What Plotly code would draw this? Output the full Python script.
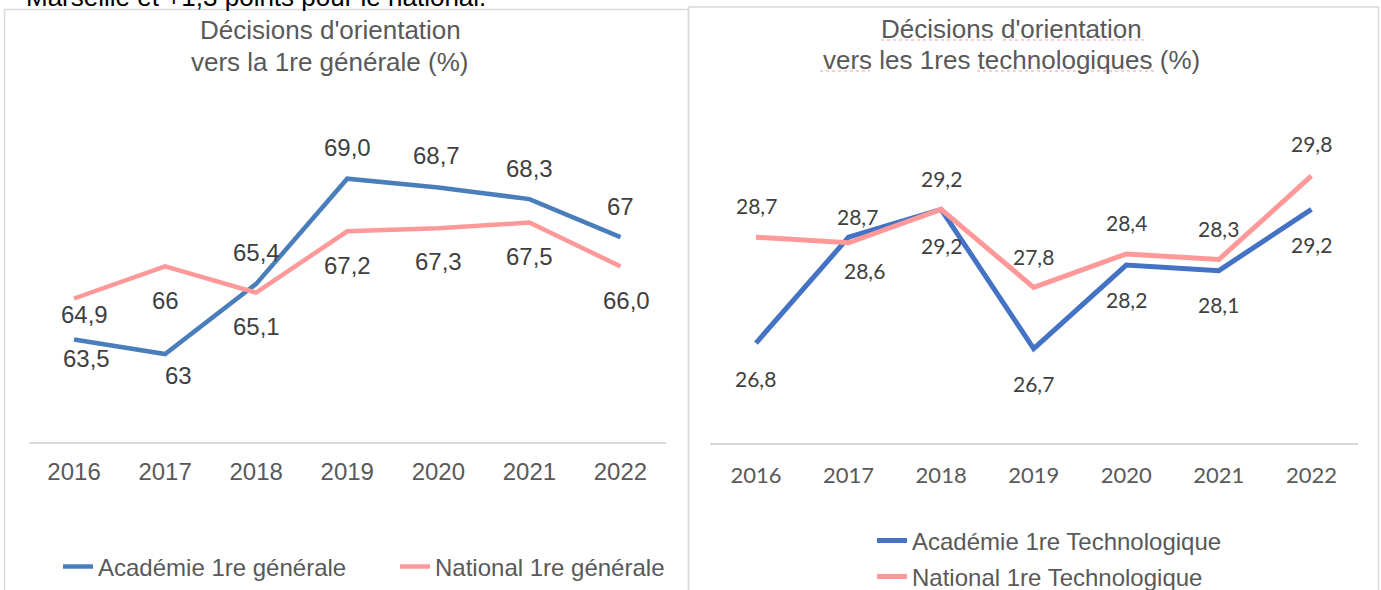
import plotly.graph_objects as go

# ---------------- data ----------------
years = [2016, 2017, 2018, 2019, 2020, 2021, 2022]
year_labels = ["2016", "2017", "2018", "2019", "2020", "2021", "2022"]

acad_gen = [63.5, 63.0, 65.4, 69.0, 68.7, 68.3, 67.0]
nat_gen = [64.9, 66.0, 65.1, 67.2, 67.3, 67.5, 66.0]
acad_gen_labels = ["63,5", "63", "65,4", "69,0", "68,7", "68,3", "67"]
nat_gen_labels = ["64,9", "66", "65,1", "67,2", "67,3", "67,5", "66,0"]

acad_tech = [26.8, 28.7, 29.2, 26.7, 28.2, 28.1, 29.2]
nat_tech = [28.7, 28.6, 29.2, 27.8, 28.4, 28.3, 29.8]
acad_tech_labels = ["26,8", "28,7", "29,2", "26,7", "28,2", "28,1", "29,2"]
nat_tech_labels = ["28,7", "28,6", "29,2", "27,8", "28,4", "28,3", "29,8"]

# label offsets (pixels; positive dy = downward)
acad_gen_dy = [19, 21, -31, -31, -32, -31, -31]
acad_gen_dx = [12, 13, 0, 0, -2, 0, 0]
nat_gen_dy = [16, 34, 34, 34, 33, 34, 34]
nat_gen_dx = [10, 0, 0, 0, 0, 0, 6]
acad_tech_dy = [35, -21, 36, 35, 34, 34, 35]
acad_tech_dx = [0, 9, 0, 0, 0, 0, 0]
nat_tech_dy = [-32, 28, -31, -31, -31, -31, -32]
nat_tech_dx = [1, 16, 0, 0, 0, 0, 0]

W, H = 1381, 590


def px(x):
    return x / W


def py(y):
    return 1 - y / H


BLUE_L = "#4A7EBB"
BLUE_R = "#4472C4"
PINK = "#FF9999"
GREY_TXT = "#595959"
LABEL_TXT = "#404040"
ARIAL = "Liberation Sans, Arial, sans-serif"
CALIB = "Lato, Carlito, sans-serif"

fig = go.Figure()
fig.add_trace(go.Scatter(x=years, y=acad_gen, mode="lines", name="Académie 1re générale",
                         line=dict(color=BLUE_L, width=4.5), xaxis="x", yaxis="y",
                         legend="legend", hoverinfo="skip"))
fig.add_trace(go.Scatter(x=years, y=nat_gen, mode="lines", name="National 1re générale",
                         line=dict(color=PINK, width=4.5), xaxis="x", yaxis="y",
                         legend="legend2", hoverinfo="skip"))
fig.add_trace(go.Scatter(x=years, y=acad_tech, mode="lines", name="Académie 1re Technologique",
                         line=dict(color=BLUE_R, width=5), xaxis="x2", yaxis="y2",
                         legend="legend3", hoverinfo="skip"))
fig.add_trace(go.Scatter(x=years, y=nat_tech, mode="lines", name="National 1re Technologique",
                         line=dict(color=PINK, width=5), xaxis="x2", yaxis="y2",
                         legend="legend4", hoverinfo="skip"))

annotations = []


def add_labels(vals, labels, dxs, dys, xr, yr, font):
    for yr_, v, t, dx, dy in zip(years, vals, labels, dxs, dys):
        annotations.append(dict(x=yr_, y=v, xref=xr, yref=yr, text=t, showarrow=False,
                                xshift=dx, yshift=-dy, font=font,
                                xanchor="center", yanchor="middle"))


lab_font_l = dict(family=ARIAL, size=24, color=LABEL_TXT)
lab_font_r = dict(family=CALIB, size=21, color=LABEL_TXT)
add_labels(acad_gen, acad_gen_labels, acad_gen_dx, acad_gen_dy, "x", "y", lab_font_l)
add_labels(nat_gen, nat_gen_labels, nat_gen_dx, nat_gen_dy, "x", "y", lab_font_l)
add_labels(acad_tech, acad_tech_labels, acad_tech_dx, acad_tech_dy, "x2", "y2", lab_font_r)
add_labels(nat_tech, nat_tech_labels, nat_tech_dx, nat_tech_dy, "x2", "y2", lab_font_r)

title_font = dict(family=ARIAL, size=26, color=GREY_TXT)
for text, x, y in [("Décisions d'orientation", 330, 30),
                   ("vers la 1re générale (%)", 329, 62),
                   ("Décisions d'orientation", 1012, 29),
                   ("vers les 1res technologiques (%)", 1011, 60)]:
    annotations.append(dict(x=px(x), y=py(y), xref="paper", yref="paper", text=text,
                            showarrow=False, xanchor="center", yanchor="middle",
                            font=title_font))

annotations.append(dict(x=px(24), y=py(-3), xref="paper", yref="paper",
                        text="Marseille et +1,3 points pour le national.",
                        showarrow=False, xanchor="left", yanchor="middle",
                        font=dict(family=ARIAL, size=26, color="#000000")))

border = dict(color="#D9D9D9", width=1.5)
shapes = [
    dict(type="rect", xref="paper", yref="paper", x0=px(4.5), x1=px(688.5),
         y0=py(9.5), y1=py(620), line=border, fillcolor="rgba(0,0,0,0)", layer="below"),
    dict(type="rect", xref="paper", yref="paper", x0=px(688.5), x1=px(1378.5),
         y0=py(7), y1=py(620), line=border, fillcolor="rgba(0,0,0,0)", layer="below"),
]
# spell-check style underlines below words of the right-hand title
squiggle = dict(color="#F2A0A0", width=1.2, dash="dot")
for x0, x1, y in [(881, 994, 40), (1003, 1144, 40), (820, 870, 71), (977, 1154, 71)]:
    shapes.append(dict(type="line", xref="paper", yref="paper", x0=px(x0), x1=px(x1),
                       y0=py(y), y1=py(y), line=squiggle))

axis_common = dict(type="linear", range=[2015.5, 2022.5], tickmode="array",
                   tickvals=years, ticktext=year_labels,
                   showline=True, linecolor="#D9D9D9", linewidth=2,
                   ticks="", showgrid=False, zeroline=False, fixedrange=True,
                   automargin=False)

leg_common = dict(font=dict(family=ARIAL, size=24, color=GREY_TXT),
                  bgcolor="rgba(0,0,0,0)", xanchor="left", yanchor="middle",
                  orientation="h", borderwidth=0)

fig.update_layout(
    width=W, height=H,
    margin=dict(l=0, r=0, t=0, b=0, autoexpand=False),
    paper_bgcolor="white", plot_bgcolor="white",
    xaxis=dict(domain=[px(28.5), px(666)], anchor="y",
               tickfont=dict(family=ARIAL, size=24, color=GREY_TXT),
               ticklabelstandoff=7, **axis_common),
    yaxis=dict(domain=[py(441.7), py(91)], range=[60, 72], visible=False,
               anchor="x", fixedrange=True),
    xaxis2=dict(domain=[px(709.7), px(1357.7)], anchor="y2",
                tickfont=dict(family=CALIB, size=22, color=GREY_TXT),
                ticklabelstandoff=11, **axis_common),
    yaxis2=dict(domain=[py(443.3), py(109.1)], range=[25, 31], visible=False,
                anchor="x2", fixedrange=True),
    showlegend=True,
    legend=dict(x=px(58), y=py(567), **leg_common),
    legend2=dict(x=px(395), y=py(567), **leg_common),
    legend3=dict(x=px(872), y=py(541), **leg_common),
    legend4=dict(x=px(872), y=py(577), **leg_common),
    annotations=annotations,
    shapes=shapes,
)

fig.write_html("out.html", config={"displayModeBar": False},
               post_script="document.body.style.margin='0';")
